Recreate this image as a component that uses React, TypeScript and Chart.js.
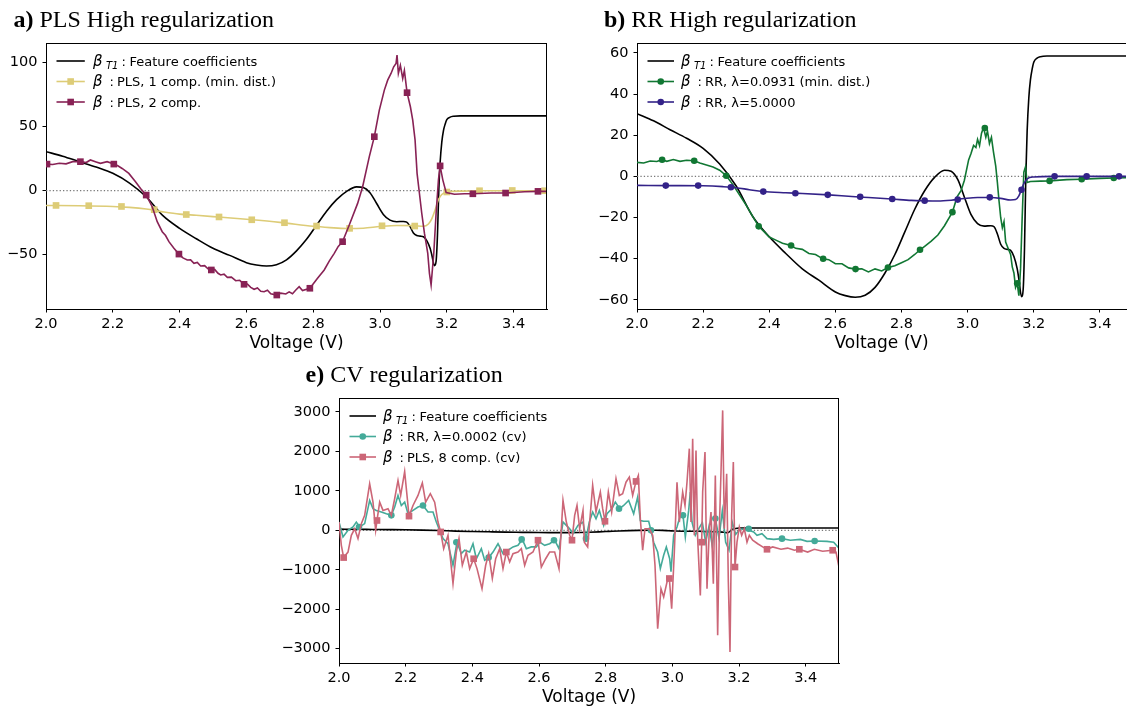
import React, { useEffect, useRef } from 'react';
import { Chart, registerables } from 'chart.js';
Chart.register(...registerables);

// ---------- tick labels ----------
const X_TICKS = [2.0, 2.2, 2.4, 2.6, 2.8, 3.0, 3.2, 3.4];
const Y_TICKS_A = [-50, 0, 50, 100];
const Y_TICKS_B = [-60, -40, -20, 0, 20, 40, 60];
const Y_TICKS_E = [-3000, -2000, -1000, 0, 1000, 2000, 3000];

// ---------- feature coefficients (beta_T1) ----------
const FEAT_X = [2.0, 2.05, 2.1, 2.15, 2.2, 2.25, 2.3, 2.35, 2.4, 2.45, 2.5, 2.55, 2.6, 2.63, 2.66, 2.69, 2.72, 2.75, 2.78, 2.81, 2.84, 2.87, 2.9, 2.93, 2.95, 2.97, 2.99, 3.01, 3.03, 3.05, 3.07, 3.08, 3.09, 3.1, 3.11, 3.12, 3.13, 3.14, 3.15, 3.155, 3.163, 3.168, 3.172, 3.176, 3.18, 3.185, 3.19, 3.195, 3.2, 3.21, 3.22, 3.24, 3.5];
const FEAT_Y = [30.5, 27, 22.7, 18.5, 13.6, 6.0, -4.7, -19.5, -29.4, -37.5, -45, -50.5, -56.2, -58, -58.8, -57.8, -54, -47, -38, -27, -16, -7, -0.5, 3, 2.5, -1.5, -10, -18.5, -23, -24.2, -24, -24.5, -28, -33, -35, -35.5, -36, -39, -45, -50, -58.5, -55, -35, 0, 22, 38, 47, 52, 55.5, 57.5, 58.2, 58.5, 58.5];

// ---------- a) PLS 1 comp ----------
const PLS1_X = [2.0, 2.1, 2.2, 2.25, 2.3, 2.35, 2.4, 2.45, 2.5, 2.6, 2.7, 2.8, 2.85, 2.9, 2.95, 3.0, 3.05, 3.1, 3.13, 3.145, 3.155, 3.165, 3.175, 3.185, 3.2, 3.25, 3.3, 3.4, 3.5];
const PLS1_Y = [-11.5, -11.7, -12.3, -13, -14.3, -16.5, -18.3, -19.2, -20.2, -22.3, -24.7, -27.8, -28.8, -29.5, -29.3, -28, -27.2, -27.3, -27.8, -26, -22, -15, -7, -3, -1, -0.3, 0, 0, 0];
const PLS1_MX = [2.03, 2.128, 2.226, 2.324, 2.42, 2.518, 2.616, 2.714, 2.81, 2.909, 3.006, 3.104, 3.2, 3.298, 3.396, 3.493];
const PLS1_MY = [-11.5, -11.7, -12.3, -14.8, -18.6, -20.5, -22.7, -25, -27.6, -29.4, -27.4, -27.6, -1, 0, 0.2, 0];

// ---------- a) PLS 2 comp ----------
const PLS2_X = [2.0, 2.02, 2.04, 2.06, 2.08, 2.103, 2.12, 2.133, 2.15, 2.163, 2.183, 2.203, 2.215, 2.228, 2.248, 2.268, 2.283, 2.3, 2.318, 2.333, 2.348, 2.358, 2.368, 2.383, 2.398, 2.41, 2.423, 2.433, 2.443, 2.453, 2.463, 2.475, 2.485, 2.495, 2.505, 2.515, 2.523, 2.533, 2.543, 2.555, 2.568, 2.58, 2.593, 2.603, 2.613, 2.623, 2.633, 2.643, 2.653, 2.663, 2.673, 2.691, 2.703, 2.718, 2.728, 2.738, 2.748, 2.758, 2.768, 2.79, 2.813, 2.833, 2.848, 2.863, 2.875, 2.888, 2.908, 2.933, 2.948, 2.968, 2.983, 2.998, 3.013, 3.023, 3.033, 3.041, 3.048, 3.051, 3.055, 3.061, 3.068, 3.073, 3.081, 3.091, 3.098, 3.105, 3.111, 3.118, 3.125, 3.133, 3.143, 3.148, 3.153, 3.161, 3.168, 3.175, 3.18, 3.188, 3.198, 3.223, 3.253, 3.278, 3.333, 3.376, 3.433, 3.473, 3.5];
const PLS2_Y = [20.8, 20.5, 21.4, 21, 22.7, 22.7, 22, 24, 22.5, 21.4, 22.7, 20.8, 19.5, 17.4, 13.5, 7, 1.8, -3.4, -12.5, -24.2, -32, -35, -39.8, -45, -49.5, -52.5, -54.1, -54, -56.7, -56, -58.8, -58.5, -61, -61.9, -61.5, -64.5, -65.8, -65.2, -67.7, -67.5, -70.3, -70, -73.1, -73, -75.5, -77, -76, -78.5, -78.9, -77.8, -80.5, -81.5, -80, -80.7, -79, -80.5, -77.6, -75, -78, -76.2, -68.4, -61.9, -55, -48.9, -43.5, -39.8, -26.8, -9.9, 3.1, 26.6, 42.2, 63, 78.6, 86.4, 91.6, 96.8, 99.4, 105.9, 91.6, 98, 87.7, 94, 76.6, 65.6, 55.2, 39.6, 13.6, -2, -17.6, -33.2, -48.9, -64.5, -73.6, -48.9, -17.6, 8.5, 19.4, 8.5, -1.4, -2.7, -2.4, -2.4, -1.8, -1.8, -0.8, -0.5, -0.5];
const PLS2_MX = [2.003, 2.103, 2.203, 2.3, 2.398, 2.495, 2.593, 2.691, 2.79, 2.888, 2.983, 3.081, 3.18, 3.278, 3.376, 3.473];
const PLS2_MY = [20.8, 22.7, 20.8, -3.4, -49.5, -61.9, -73.1, -81.5, -76.2, -39.8, 42.2, 76.6, 19.4, -2.4, -1.8, -0.5];

// ---------- b) RR lambda=0.0931 ----------
const RR1_X = [2.0, 2.02, 2.04, 2.06, 2.076, 2.09, 2.11, 2.13, 2.15, 2.173, 2.19, 2.21, 2.23, 2.25, 2.27, 2.29, 2.31, 2.33, 2.35, 2.368, 2.385, 2.4, 2.42, 2.44, 2.466, 2.48, 2.5, 2.52, 2.54, 2.562, 2.58, 2.6, 2.62, 2.64, 2.66, 2.68, 2.7, 2.72, 2.74, 2.759, 2.78, 2.8, 2.82, 2.84, 2.856, 2.87, 2.89, 2.91, 2.93, 2.954, 2.968, 2.98, 2.99, 3.003, 3.01, 3.018, 3.025, 3.03, 3.036, 3.042, 3.048, 3.055, 3.06, 3.066, 3.072, 3.078, 3.085, 3.09, 3.095, 3.1, 3.105, 3.11, 3.115, 3.12, 3.13, 3.135, 3.14, 3.145, 3.15, 3.155, 3.16, 3.165, 3.17, 3.175, 3.18, 3.19, 3.22, 3.248, 3.3, 3.345, 3.4, 3.442, 3.5];
const RR1_Y = [6.8, 6.5, 7.5, 7.2, 8.1, 7.3, 8.2, 7.3, 7.8, 7.6, 6.5, 5.5, 4.5, 3, 0.3, -4, -9, -14, -19.5, -24.3, -27, -29.5, -31, -32.5, -33.6, -35, -35.5, -37.5, -38, -40.1, -40.5, -42.5, -42.5, -44.5, -45.1, -45, -46.5, -45, -46, -44.3, -43.5, -42, -40.5, -38, -35.7, -34, -31.5, -28.5, -24, -17.4, -10, -7, -2, 8, 11, 15, 14, 18, 15, 21, 23.7, 19, 22, 16, 19, 12, 5, -3, -12, -20, -25, -22, -32, -34, -38, -44, -47, -54, -52, -58, -45, -20, 2, 4.6, -3, -2.5, -2.3, -2.2, -1.6, -1.4, -1, -0.8, -0.6];
const RR1_MX = [2.076, 2.173, 2.27, 2.368, 2.466, 2.563, 2.661, 2.759, 2.856, 2.954, 3.052, 3.15, 3.248, 3.345, 3.442];
const RR1_MY = [8.1, 7.6, 0.3, -24.3, -33.6, -40.1, -45.1, -44.3, -35.7, -17.4, 23.5, -52, -2.2, -1.4, -0.8];

// ---------- b) RR lambda=5 ----------
const RR2_X = [2.0, 2.1, 2.2, 2.26, 2.3, 2.34, 2.38, 2.45, 2.5, 2.58, 2.65, 2.7, 2.77, 2.83, 2.87, 2.91, 2.95, 2.99, 3.03, 3.07, 3.1, 3.13, 3.145, 3.155, 3.163, 3.17, 3.18, 3.2, 3.26, 3.5];
const RR2_Y = [-4.4, -4.5, -4.6, -5, -5.5, -6.5, -7.4, -8, -8.3, -9, -9.8, -10.3, -11, -11.7, -11.9, -12, -11.6, -10.8, -10.3, -10.3, -10.7, -11.5, -11.3, -9.5, -6.3, -3.5, -1.2, -0.3, 0, 0];
const RR2_MX = [2.087, 2.185, 2.284, 2.382, 2.479, 2.577, 2.675, 2.772, 2.87, 2.97, 3.067, 3.163, 3.263, 3.36, 3.458];
const RR2_MY = [-4.5, -4.5, -5.3, -7.4, -8.2, -9, -9.9, -11, -11.8, -11.3, -10.2, -6.5, 0, 0, 0];

// ---------- e) RR lambda=0.0002 (cv) ----------
const RRCV_X = [2.0, 2.012, 2.027, 2.042, 2.052, 2.062, 2.077, 2.092, 2.102, 2.112, 2.127, 2.142, 2.157, 2.167, 2.177, 2.187, 2.197, 2.207, 2.222, 2.237, 2.252, 2.267, 2.282, 2.292, 2.302, 2.312, 2.327, 2.342, 2.354, 2.367, 2.377, 2.392, 2.402, 2.412, 2.427, 2.437, 2.449, 2.462, 2.477, 2.492, 2.507, 2.522, 2.537, 2.55, 2.562, 2.577, 2.592, 2.602, 2.617, 2.632, 2.647, 2.66, 2.672, 2.682, 2.692, 2.702, 2.717, 2.732, 2.741, 2.751, 2.761, 2.771, 2.781, 2.794, 2.804, 2.819, 2.829, 2.842, 2.854, 2.869, 2.884, 2.896, 2.904, 2.914, 2.929, 2.936, 2.944, 2.956, 2.964, 2.974, 2.982, 2.992, 2.996, 3.004, 3.014, 3.024, 3.032, 3.039, 3.049, 3.054, 3.059, 3.069, 3.079, 3.09, 3.1, 3.11, 3.12, 3.129, 3.14, 3.15, 3.16, 3.17, 3.18, 3.19, 3.204, 3.229, 3.244, 3.254, 3.269, 3.284, 3.304, 3.329, 3.354, 3.384, 3.404, 3.429, 3.464, 3.484, 3.5];
const RRCV_Y = [210, -170, 0, 85, 210, 85, 170, 760, 550, 505, 465, 420, 380, 590, 885, 630, 715, 420, 505, 590, 630, 465, 465, 210, 0, -210, -340, -885, -300, -590, -505, -550, -340, -720, -465, -760, -690, -550, -340, -590, -505, -420, -380, -230, -465, -420, -420, -300, -380, -340, -250, -465, 210, 125, 40, -85, 125, 210, -210, 210, 465, 295, 505, 125, 420, 550, 715, 550, 630, 760, 420, 845, 250, 230, 230, 0, -300, -550, -970, -630, -420, -720, -1050, -125, 85, 380, 380, -170, 505, 970, 210, -125, 40, 200, -300, 100, -400, 300, -200, 500, -300, -500, 200, -100, 40, 0, -40, -125, -85, -210, -230, -210, -250, -230, -280, -270, -280, -300, -450];
const RRCV_MX = [2.06, 2.157, 2.252, 2.352, 2.449, 2.548, 2.645, 2.741, 2.84, 2.936, 3.032, 3.129, 3.229, 3.329, 3.427];
const RRCV_MY = [85, 380, 630, -300, -690, -230, -250, -210, 550, 0, 380, 300, 40, -210, -270];

// ---------- e) PLS 8 comp (cv) ----------
const PLSCV_X = [2.0, 2.007, 2.014, 2.027, 2.037, 2.047, 2.057, 2.067, 2.077, 2.092, 2.102, 2.11, 2.114, 2.122, 2.132, 2.147, 2.157, 2.167, 2.177, 2.185, 2.197, 2.205, 2.21, 2.222, 2.237, 2.25, 2.26, 2.274, 2.287, 2.297, 2.305, 2.314, 2.327, 2.342, 2.352, 2.36, 2.37, 2.382, 2.392, 2.404, 2.414, 2.429, 2.44, 2.449, 2.46, 2.47, 2.482, 2.492, 2.502, 2.512, 2.522, 2.537, 2.547, 2.557, 2.567, 2.582, 2.597, 2.607, 2.62, 2.632, 2.647, 2.66, 2.672, 2.682, 2.692, 2.699, 2.707, 2.714, 2.722, 2.732, 2.736, 2.746, 2.761, 2.771, 2.784, 2.791, 2.798, 2.808, 2.818, 2.831, 2.841, 2.851, 2.861, 2.871, 2.881, 2.891, 2.898, 2.904, 2.911, 2.918, 2.931, 2.941, 2.948, 2.956, 2.966, 2.974, 2.984, 2.991, 2.998, 3.006, 3.014, 3.021, 3.031, 3.038, 3.044, 3.051, 3.056, 3.061, 3.066, 3.071, 3.076, 3.084, 3.088, 3.091, 3.098, 3.104, 3.111, 3.116, 3.123, 3.129, 3.136, 3.141, 3.146, 3.151, 3.156, 3.163, 3.168, 3.173, 3.178, 3.183, 3.188, 3.194, 3.201, 3.208, 3.216, 3.224, 3.231, 3.241, 3.256, 3.271, 3.284, 3.301, 3.326, 3.346, 3.366, 3.381, 3.406, 3.426, 3.451, 3.481, 3.491, 3.5];
const PLSCV_Y = [210, -380, -690, -550, -125, 40, -210, 170, 380, 1180, 715, 0, 250, 715, 505, 550, 380, 800, 1265, 885, 1490, 800, 360, 630, 885, 1200, 715, 930, 715, 210, -40, -465, -125, -1350, -550, -210, -885, -550, -970, -720, -970, -1480, -885, -590, -1220, -720, -465, -970, -550, -800, -590, -550, -465, -885, -630, -550, -250, -930, -720, -550, -550, -970, 760, 210, -125, -250, 380, 630, 40, 505, -300, -420, 1140, 465, 970, 550, 230, 970, 465, 1310, 885, 930, 1220, 1350, 885, 1240, 1390, 295, -505, 40, 40, -125, -885, -2490, -1480, -1690, -1310, -1220, -1985, -550, 1220, 210, 970, 630, 1220, 2070, 210, 2320, -125, 2020, -210, -1650, -300, 970, 1985, -1480, 40, 465, -1350, 1390, -2660, 40, 1480, 3040, 40, 1435, -1310, -3080, 380, 1730, -930, -300, 85, -125, 40, -300, -125, -250, -340, -420, -480, -420, -480, -450, -505, -480, -550, -480, -530, -505, -550, -930];
const PLSCV_MX = [2.014, 2.114, 2.21, 2.305, 2.404, 2.502, 2.597, 2.699, 2.798, 2.891, 2.991, 3.088, 3.188, 3.284, 3.381, 3.481];
const PLSCV_MY = [-690, 250, 360, -40, -720, -550, -250, -250, 230, 1240, -1220, -300, -930, -480, -480, -505];

// ---------- colours ----------
const C_BLACK = '#000000';
const C_SAND = '#DDCC77';
const C_WINE = '#882255';
const C_GREEN = '#117733';
const C_INDIGO = '#332288';
const C_TEAL = '#44AA99';
const C_ROSE = '#CC6677';

const MINUS = '\u2212';

type Series = {
  xs: number[]; ys: number[]; color: string; smooth?: boolean;
  mxs?: number[]; mys?: number[]; marker?: 'rect' | 'circle';
};
type LegendEntry = { sub?: string; label: string; color: string; marker?: 'rect' | 'circle' };
type Panel = {
  left: number; top: number; width: number; height: number;
  area: { l: number; t: number; r: number; b: number };
  xMax: number; yMin: number; yMax: number; yTicks: number[];
  titleBold: string; titleRest: string; titleX: number; titleY: number;
  titlePad: number; rightBorder: boolean; legendDx: number;
  series: Series[]; legend: LegendEntry[];
};

function pts(xs: number[], ys: number[]) {
  return xs.map((x, i) => ({ x, y: ys[i] }));
}

function drawMarker(ctx: CanvasRenderingContext2D, kind: 'rect' | 'circle', x: number, y: number, color: string) {
  ctx.fillStyle = color;
  ctx.beginPath();
  if (kind === 'rect') ctx.rect(x - 3.3, y - 3.3, 6.6, 6.6);
  else ctx.arc(x, y, 3.3, 0, Math.PI * 2);
  ctx.fill();
}

function makeChart(canvas: HTMLCanvasElement, p: Panel) {
  const datasets: any[] = [];
  const n = p.series.length * 2;
  let k = 0;
  p.series.forEach((s) => {
    datasets.push({
      data: pts(s.xs, s.ys), borderColor: s.color, borderWidth: 1.6, pointRadius: 0,
      fill: false, tension: 0, cubicInterpolationMode: s.smooth ? 'monotone' : 'default',
      order: n - k++,
    });
    if (s.mxs && s.mys && s.marker) {
      datasets.push({
        data: pts(s.mxs, s.mys), showLine: false, pointStyle: s.marker,
        pointRadius: s.marker === 'rect' ? 4.7 : 3.3, pointBorderWidth: 0,
        pointBackgroundColor: s.color, pointBorderColor: s.color, borderColor: s.color,
        order: n - k++,
      });
    } else k++;
  });

  const deco = {
    id: 'deco',
    beforeDatasetsDraw(chart: any) {
      const { ctx, chartArea: a, scales } = chart;
      const y0 = scales.y.getPixelForValue(0);
      ctx.save();
      ctx.strokeStyle = '#7a7a7a';
      ctx.lineWidth = 1.2;
      ctx.setLineDash([1.3, 2.1]);
      ctx.beginPath();
      ctx.moveTo(a.left, y0);
      ctx.lineTo(a.right, y0);
      ctx.stroke();
      ctx.restore();
    },
    afterDraw(chart: any) {
      const { ctx, chartArea: a } = chart;
      ctx.save();
      // frame top / right
      ctx.strokeStyle = '#000';
      ctx.lineWidth = 1;
      ctx.beginPath();
      ctx.moveTo(a.left, a.top + 0.5);
      ctx.lineTo(a.right, a.top + 0.5);
      if (p.rightBorder) {
        ctx.moveTo(a.right - 0.5, a.top);
        ctx.lineTo(a.right - 0.5, a.bottom);
      }
      ctx.stroke();
      // legend
      const lx0 = a.left + 10.5;
      const lx1 = a.left + 37 + p.legendDx * 0.6;
      p.legend.forEach((e, i) => {
        const y = a.top + 18 + i * 20.5;
        ctx.strokeStyle = e.color;
        ctx.lineWidth = 1.6;
        ctx.beginPath();
        ctx.moveTo(lx0, y);
        ctx.lineTo(lx1, y);
        ctx.stroke();
        if (e.marker) drawMarker(ctx, e.marker, (lx0 + lx1) / 2, y, e.color);
        const tx = a.left + 44 + p.legendDx;
        const base = y + 4.8;
        ctx.fillStyle = '#000';
        ctx.textBaseline = 'alphabetic';
        ctx.textAlign = 'left';
        ctx.font = 'italic 15px "DejaVu Sans"';
        ctx.fillText('\u03B2', tx, base);
        if (e.sub) {
          ctx.font = 'italic 10px "DejaVu Sans"';
          ctx.fillText(e.sub, tx + 13, base + 2.8);
          ctx.font = '13px "DejaVu Sans"';
          ctx.fillText(':', tx + 28.5, base);
          ctx.fillText(e.label, tx + 36.5, base);
        } else {
          ctx.font = '13px "DejaVu Sans"';
          ctx.fillText(':', tx + 16.5, base);
          ctx.fillText(e.label, tx + 24, base);
        }
      });
      // panel title
      ctx.fillStyle = '#000';
      ctx.font = 'bold 24px "Liberation Serif"';
      ctx.fillText(p.titleBold, p.titleX, p.titleY);
      const w = ctx.measureText(p.titleBold).width;
      ctx.font = '24px "Liberation Serif"';
      ctx.fillText(p.titleRest, p.titleX + w, p.titleY);
      ctx.restore();
    },
  };

  const axisH = p.height - p.area.b;
  return new Chart(canvas, {
    type: 'line',
    data: { datasets },
    plugins: [deco],
    options: {
      animation: false,
      responsive: false,
      devicePixelRatio: 1,
      layout: { padding: { left: 0, top: p.area.t, right: p.width - p.area.r, bottom: 0 } },
      plugins: { legend: { display: false }, tooltip: { enabled: false }, title: { display: false } },
      scales: {
        x: {
          type: 'linear', min: 2.0, max: p.xMax,
          afterBuildTicks: (s: any) => { s.ticks = X_TICKS.map((v) => ({ value: v })); },
          afterFit: (s: any) => { s.height = axisH; },
          grid: { display: true, drawOnChartArea: false, drawTicks: true, tickLength: 3.5, color: '#000', lineWidth: 1 },
          border: { display: true, color: '#000', width: 1 },
          ticks: {
            color: '#000', font: { family: 'DejaVu Sans', size: 14.5 }, padding: 3,
            maxRotation: 0, autoSkip: false,
            callback: (v: any) => Number(v).toFixed(1),
          },
          title: {
            display: true, text: 'Voltage (V)', color: '#000',
            font: { family: 'DejaVu Sans', size: 17, lineHeight: 1 }, padding: { top: 0, bottom: p.titlePad },
          },
        },
        y: {
          type: 'linear', min: p.yMin, max: p.yMax,
          afterBuildTicks: (s: any) => { s.ticks = p.yTicks.map((v) => ({ value: v })); },
          afterFit: (s: any) => { s.width = p.area.l; },
          grid: { display: true, drawOnChartArea: false, drawTicks: true, tickLength: 3.5, color: '#000', lineWidth: 1 },
          border: { display: true, color: '#000', width: 1 },
          ticks: {
            color: '#000', font: { family: 'DejaVu Sans', size: 14.5 }, padding: 5, autoSkip: false,
            callback: (v: any) => (Number(v) < 0 ? MINUS + Math.abs(Number(v)) : String(v)),
          },
        },
      },
    } as any,
  });
}

const PANELS: Panel[] = [
  {
    left: 0, top: 0, width: 560, height: 360,
    area: { l: 46, t: 43, r: 547, b: 309 },
    xMax: 3.5, yMin: -92.4, yMax: 115.4, yTicks: Y_TICKS_A,
    titleBold: 'a)', titleRest: ' PLS High regularization', titleX: 13.5, titleY: 27.3,
    titlePad: 8.3, rightBorder: true, legendDx: 3,
    series: [
      { xs: FEAT_X, ys: FEAT_Y, color: C_BLACK, smooth: true },
      { xs: PLS1_X, ys: PLS1_Y, color: C_SAND, smooth: true, mxs: PLS1_MX, mys: PLS1_MY, marker: 'rect' },
      { xs: PLS2_X, ys: PLS2_Y, color: C_WINE, mxs: PLS2_MX, mys: PLS2_MY, marker: 'rect' },
    ],
    legend: [
      { sub: 'T1', label: 'Feature coefficients', color: C_BLACK },
      { label: 'PLS, 1 comp. (min. dist.)', color: C_SAND, marker: 'rect' },
      { label: 'PLS, 2 comp.', color: C_WINE, marker: 'rect' },
    ],
  },
  {
    left: 560, top: 0, width: 570, height: 360,
    area: { l: 77, t: 43, r: 570, b: 309 },
    xMax: 3.479, yMin: -64.5, yMax: 64.85, yTicks: Y_TICKS_B,
    titleBold: 'b)', titleRest: ' RR High regularization', titleX: 44, titleY: 27.3,
    titlePad: 8.3, rightBorder: false, legendDx: 0,
    series: [
      { xs: FEAT_X, ys: FEAT_Y, color: C_BLACK, smooth: true },
      { xs: RR1_X, ys: RR1_Y, color: C_GREEN, mxs: RR1_MX, mys: RR1_MY, marker: 'circle' },
      { xs: RR2_X, ys: RR2_Y, color: C_INDIGO, smooth: true, mxs: RR2_MX, mys: RR2_MY, marker: 'circle' },
    ],
    legend: [
      { sub: 'T1', label: 'Feature coefficients', color: C_BLACK },
      { label: 'RR, \u03BB=0.0931 (min. dist.)', color: C_GREEN, marker: 'circle' },
      { label: 'RR, \u03BB=5.0000', color: C_INDIGO, marker: 'circle' },
    ],
  },
  {
    left: 270, top: 360, width: 590, height: 346,
    area: { l: 69, t: 38, r: 569, b: 303 },
    xMax: 3.5, yMin: -3362, yMax: 3354, yTicks: Y_TICKS_E,
    titleBold: 'e)', titleRest: ' CV regularization', titleX: 35.6, titleY: 21.7,
    titlePad: 0, rightBorder: true, legendDx: 0,
    series: [
      { xs: FEAT_X, ys: FEAT_Y, color: C_BLACK, smooth: true },
      { xs: RRCV_X, ys: RRCV_Y, color: C_TEAL, mxs: RRCV_MX, mys: RRCV_MY, marker: 'circle' },
      { xs: PLSCV_X, ys: PLSCV_Y, color: C_ROSE, mxs: PLSCV_MX, mys: PLSCV_MY, marker: 'rect' },
    ],
    legend: [
      { sub: 'T1', label: 'Feature coefficients', color: C_BLACK },
      { label: 'RR, \u03BB=0.0002 (cv)', color: C_TEAL, marker: 'circle' },
      { label: 'PLS, 8 comp. (cv)', color: C_ROSE, marker: 'rect' },
    ],
  },
];

function PanelCanvas({ p }: { p: Panel }) {
  const ref = useRef<HTMLCanvasElement | null>(null);
  useEffect(() => {
    if (!ref.current) return;
    const c = makeChart(ref.current, p);
    return () => c.destroy();
  }, [p]);
  return (
    <canvas
      ref={ref}
      width={p.width}
      height={p.height}
      style={{ position: 'absolute', left: p.left, top: p.top, width: p.width, height: p.height }}
    />
  );
}

export default function App() {
  return (
    <div style={{ position: 'absolute', left: 0, top: 0, width: 1130, height: 706, overflow: 'hidden', background: '#fff' }}>
      {PANELS.map((p, i) => (
        <PanelCanvas key={i} p={p} />
      ))}
    </div>
  );
}
